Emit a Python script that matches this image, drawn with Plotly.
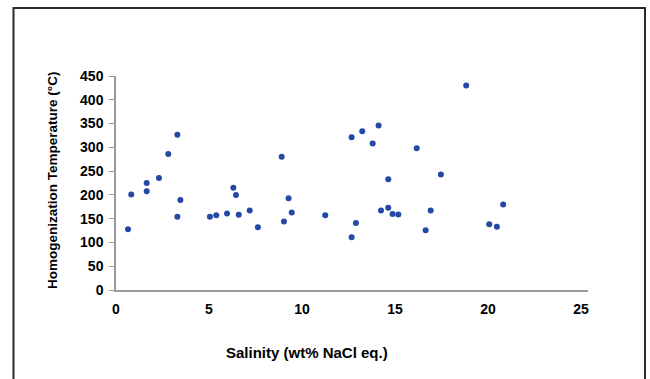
import plotly.graph_objects as go

salinity = [0.645, 0.82, 1.65, 1.65, 2.31, 2.81, 3.30, 3.30, 3.46, 5.05, 5.39, 5.97, 6.31, 6.45,
            6.60, 7.19, 7.63, 8.91, 9.03, 9.28, 9.45, 11.25, 12.67, 13.24, 14.12, 13.80, 18.83,
            16.17, 14.64, 17.47, 14.25, 14.64, 14.87, 15.18, 16.92, 20.82, 12.90, 12.67, 16.65,
            20.07, 20.48]
temperature = [128, 201, 225, 207.5, 235.5, 286, 326.5, 154, 189, 154, 157, 161, 215, 200,
               158, 167, 132, 280, 144, 193, 163, 157, 321, 334, 346, 308, 430,
               298, 233, 243, 167, 173, 160, 159, 167, 180, 141, 111, 125.5,
               138, 133]
x_ticks = [0, 5, 10, 15, 20, 25]
y_ticks = [0, 50, 100, 150, 200, 250, 300, 350, 400, 450]

W, H = 650, 379
L, R, T, B = 116, 62, 76, 89
pw, ph = W - L - R, H - T - B

def px(x):
    return (x - L) / pw

def py(y):
    return (H - B - y) / ph

font = "Liberation Sans, Arial, sans-serif"

fig = go.Figure()
fig.add_trace(go.Scatter(
    x=salinity, y=temperature, mode="markers",
    marker=dict(color="#2349A5", size=6),
    showlegend=False, cliponaxis=False,
))

fig.update_layout(
    width=W, height=H,
    margin=dict(l=L, r=R, t=T, b=B),
    paper_bgcolor="white", plot_bgcolor="white",
    font=dict(family=font, color="black"),
    xaxis=dict(
        range=[0, 25.38], tickvals=x_ticks, ticktext=[str(v) for v in x_ticks],
        showgrid=False, zeroline=False, showline=True, linecolor="#9a9a9a", linewidth=1.5,
        ticks="", tickfont=dict(size=14, family=font, weight="bold", color="black"),
        ticklabelstandoff=5,
    ),
    yaxis=dict(
        range=[0, 450], tickvals=y_ticks, ticktext=[str(v) for v in y_ticks],
        showgrid=False, zeroline=False, showline=True, linecolor="#9a9a9a", linewidth=1.5,
        ticks="outside", ticklen=5, tickcolor="#9a9a9a", tickwidth=1,
        tickfont=dict(size=14, family=font, weight="bold", color="black"),
        ticklabelstandoff=3,
    ),
    annotations=[
        dict(text="Homogenization Temperature (°C)", xref="paper", yref="paper",
             x=px(52), y=py(181), xanchor="center", yanchor="middle", textangle=-90,
             showarrow=False, font=dict(size=13.5, family=font, weight="bold", color="black")),
        dict(text="Salinity (wt% NaCl eq.)", xref="paper", yref="paper",
             x=px(307), y=py(352), xanchor="center", yanchor="middle",
             showarrow=False, font=dict(size=15, family=font, weight="bold", color="black")),
    ],
    shapes=[
        dict(type="rect", xref="paper", yref="paper",
             x0=px(13.5), x1=px(645), y0=py(8), y1=py(400),
             line=dict(color="#2a2a2a", width=2), fillcolor="rgba(0,0,0,0)", layer="above"),
    ],
)

fig.write_html("out.html", config={"displayModeBar": False},
               post_script="document.body.style.margin='0';")
